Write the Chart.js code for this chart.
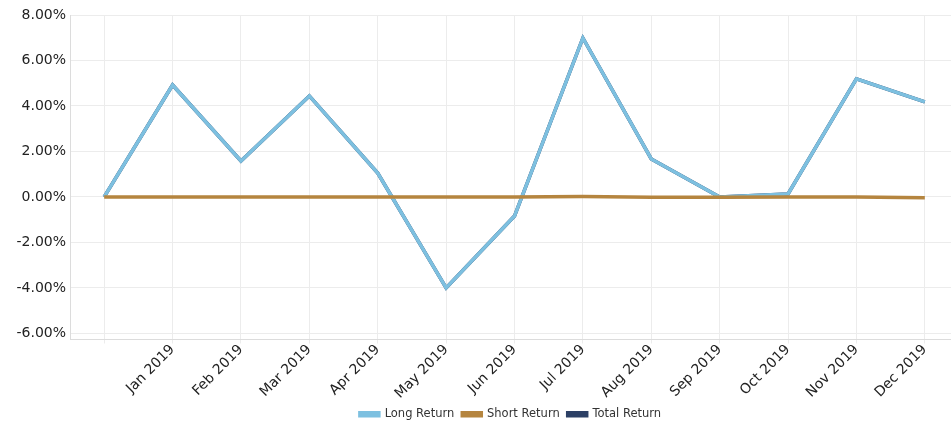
<!DOCTYPE html>
<html>
<head>
<meta charset="utf-8">
<script src="https://cdn.jsdelivr.net/npm/chart.js@4"></script>
<style>
  html, body { margin: 0; padding: 0; background: #fff; overflow: hidden; }
  #wrap { width: 960px; height: 423px; }
</style>
</head>
<body>
<div id="wrap"><canvas id="chart"></canvas></div>
<script>
// --- DATA ---
const months = ['', 'Jan 2019', 'Feb 2019', 'Mar 2019', 'Apr 2019', 'May 2019', 'Jun 2019',
    'Jul 2019', 'Aug 2019', 'Sep 2019', 'Oct 2019', 'Nov 2019', 'Dec 2019'];
const longReturn = [0, 4.92, 1.58, 4.44, 1.05, -4.0, -0.84, 6.99, 1.67, 0.0, 0.13, 5.19, 4.18];
const shortReturn = [0, 0, 0, 0, 0, 0, 0, 0.02, -0.01, -0.01, 0, 0, -0.04];
const totalReturn = [0, 4.92, 1.58, 4.44, 1.05, -4.0, -0.84, 6.99, 1.67, 0.0, 0.13, 5.19, 4.18];
const yTicks = [-6, -4, -2, 0, 2, 4, 6, 8];

const FONT = '"DejaVu Sans", Verdana, sans-serif';

// legend sits a bit right of centre in the original
const legendShift = {
    id: 'legendShift',
    afterInit(chart) {
        const lg = chart.legend;
        const origDraw = lg.draw;
        lg.draw = function (...args) {
            this.ctx.save();
            this.ctx.translate(31, 0);
            origDraw.apply(this, args);
            this.ctx.restore();
        };
    }
};

new Chart(document.getElementById('chart'), {
    type: 'line',
    data: {
        labels: months,
        datasets: [
            { label: 'Long Return', data: longReturn, borderColor: '#7dc0e0', backgroundColor: '#7dc0e0', order: 1 },
            { label: 'Short Return', data: shortReturn, borderColor: '#b5853f', backgroundColor: '#b5853f', order: 0 },
            { label: 'Total Return', data: totalReturn, borderColor: '#2c4065', backgroundColor: '#2c4065', order: 2 }
        ]
    },
    plugins: [legendShift],
    options: {
        responsive: true,
        maintainAspectRatio: false,
        animation: false,
        layout: { padding: { top: 15, right: 1, left: 0, bottom: -7 } },
        elements: {
            line: { borderWidth: 3.5, tension: 0 },
            point: { radius: 0, hoverRadius: 0 }
        },
        scales: {
            x: {
                offset: true,
                afterFit: (scale) => { scale.height = 61; },
                grid: { offset: false, color: '#ececec', tickLength: 4 },
                border: { color: '#dcdcdc' },
                ticks: {
                    minRotation: 45, maxRotation: 45, autoSkip: false,
                    color: '#222', font: { family: FONT, size: 14 }, padding: -2
                }
            },
            y: {
                min: -6.27, max: 8,
                afterBuildTicks: (scale) => { scale.ticks = yTicks.map(v => ({ value: v })); },
                afterFit: (scale) => { scale.width = 70; },
                grid: { color: '#ececec', drawTicks: false },
                border: { color: '#dcdcdc' },
                ticks: {
                    color: '#222', font: { family: FONT, size: 14 }, padding: 4,
                    callback: (v) => v.toFixed(2) + '%'
                }
            }
        },
        plugins: {
            tooltip: { enabled: false },
            legend: {
                position: 'bottom',
                labels: {
                    boxWidth: 19, boxHeight: 3, padding: 8,
                    color: '#333', font: { family: FONT, size: 11.5 },
                    sort: (a, b) => a.datasetIndex - b.datasetIndex
                }
            }
        }
    }
});
</script>
</body>
</html>
